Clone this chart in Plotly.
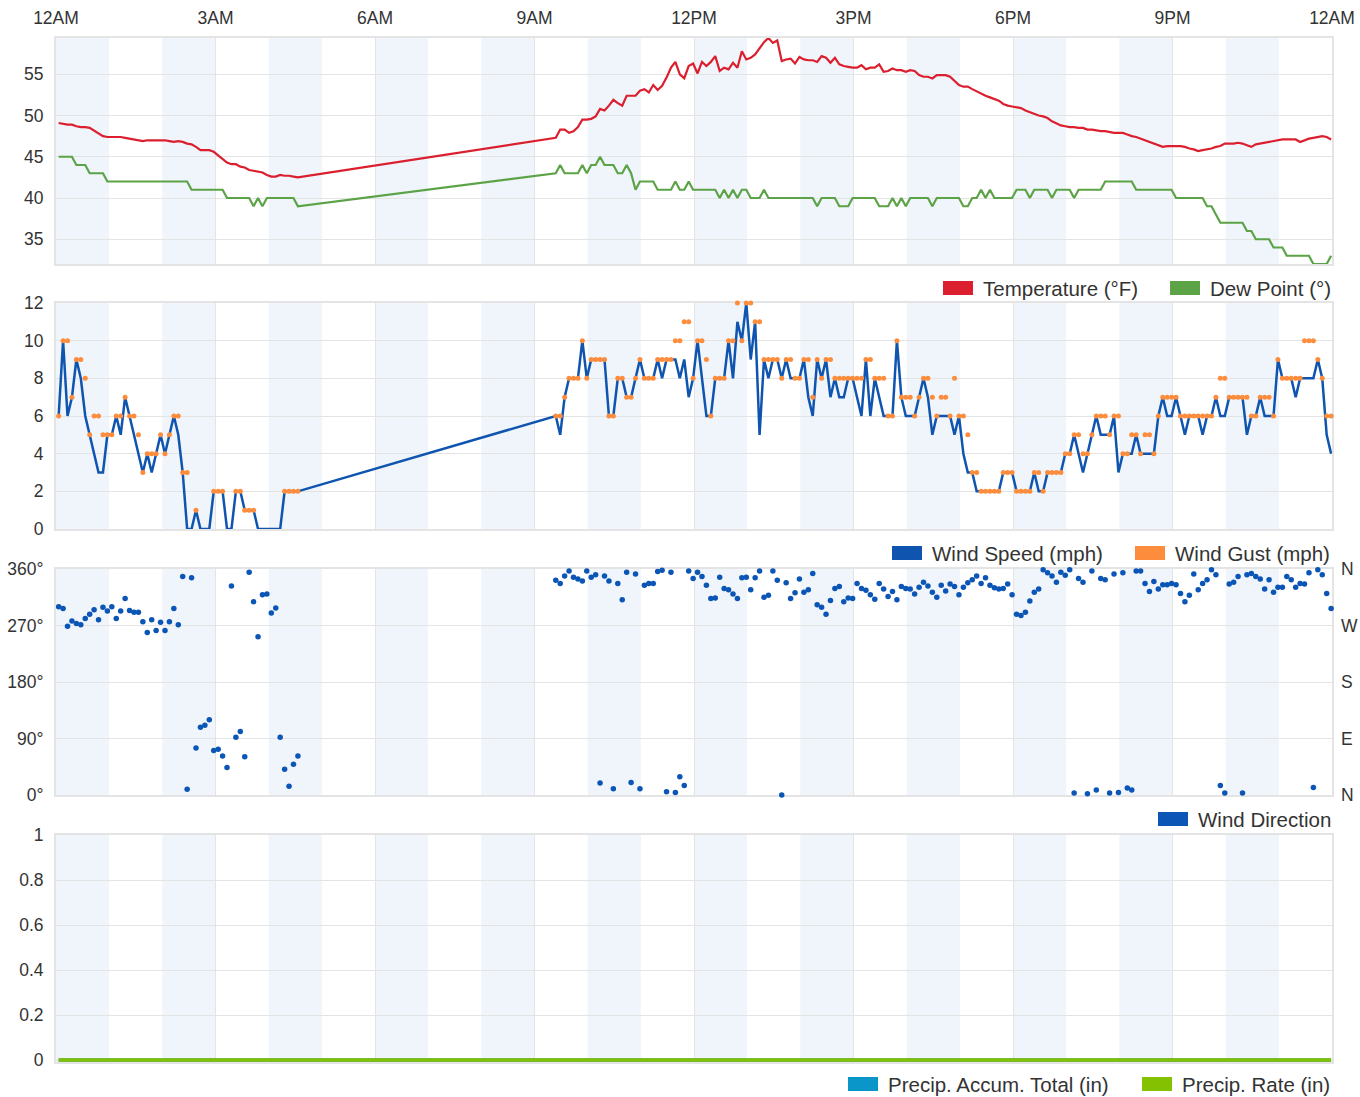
import pandas as pd
import plotly.graph_objects as go

# ---------------------------------------------------------------------------
# Station observations, 5-minute reports. The station was silent between
# 4:35 AM and 9:20 AM, so the day comes in two blocks.
# ---------------------------------------------------------------------------
DAY_START = "2020-11-08 00:00"
DAY_END = "2020-11-09 00:00"
EARLY_START = "2020-11-08 00:03"
LATE_START = "2020-11-08 09:24"

tick_labels = ["12AM", "3AM", "6AM", "9AM", "12PM", "3PM", "6PM", "9PM", "12AM"]
dir_ticks = [0, 90, 180, 270, 360]
dir_tick_labels = ["0°", "90°", "180°", "270°", "360°"]
compass_labels = ["N", "E", "S", "W", "N"]

temp_early = [
    49.1, 49.0, 48.9, 48.9, 48.7, 48.6, 48.6, 48.5, 48.2, 47.9,
    47.5, 47.4, 47.4, 47.4, 47.4, 47.3, 47.2, 47.1, 47.0, 46.9,
    47.0, 47.0, 47.0, 47.0, 47.0, 46.9, 46.8, 46.9, 46.8, 46.6,
    46.5, 46.2, 45.8, 45.8, 45.8, 45.6, 45.2, 44.7, 44.3, 44.1,
    44.1, 43.8, 43.7, 43.4, 43.3, 43.2, 43.1, 42.8, 42.6, 42.6,
    42.8, 42.7, 42.7, 42.6, 42.5,
]
temp_late = [
    47.3, 48.3, 48.3, 47.9, 48.1, 48.6, 49.5, 49.5, 49.6, 49.9,
    50.8, 50.6, 51.2, 51.9, 51.5, 51.2, 52.4, 52.4, 52.4, 53.0,
    53.2, 52.8, 53.7, 53.1, 53.6, 54.6, 55.8, 56.5, 55.0, 54.5,
    56.0, 56.3, 55.1, 56.5, 56.0, 56.5, 57.2, 55.4, 55.8, 55.6,
    56.4, 55.8, 57.8, 56.8, 57.0, 57.4, 58.2, 58.9, 59.4, 58.8,
    59.1, 56.6, 56.8, 56.9, 56.3, 57.1, 56.8, 56.7, 56.7, 56.5,
    57.2, 57.0, 56.4, 57.0, 56.2, 56.0, 55.9, 55.8, 55.8, 56.1,
    55.6, 55.8, 55.8, 56.2, 55.3, 55.4, 55.7, 55.5, 55.5, 55.3,
    55.5, 55.4, 54.9, 54.7, 54.7, 54.5, 54.9, 54.9, 54.9, 54.7,
    54.2, 53.7, 53.5, 53.5, 53.2, 52.9, 52.7, 52.4, 52.2, 52.0,
    51.8, 51.4, 51.2, 51.1, 51.0, 50.9, 50.6, 50.4, 50.2, 50.0,
    49.9, 49.7, 49.3, 49.0, 48.8, 48.7, 48.6, 48.6, 48.5, 48.5,
    48.3, 48.3, 48.2, 48.1, 48.1, 48.0, 47.9, 47.9, 47.9, 47.7,
    47.5, 47.4, 47.2, 47.0, 46.8, 46.6, 46.4, 46.2, 46.3, 46.3,
    46.3, 46.3, 46.2, 46.0, 45.9, 45.7, 45.8, 45.9, 46.0, 46.2,
    46.3, 46.6, 46.6, 46.6, 46.7, 46.6, 46.4, 46.2, 46.5, 46.6,
    46.7, 46.8, 46.9, 47.0, 47.1, 47.1, 47.1, 47.1, 46.8, 47.0,
    47.2, 47.3, 47.4, 47.5, 47.4, 47.1,
]

dew_early = [
    45, 45, 45, 45, 44, 44, 44, 43, 43, 43,
    43, 42, 42, 42, 42, 42, 42, 42, 42, 42,
    42, 42, 42, 42, 42, 42, 42, 42, 42, 42,
    41, 41, 41, 41, 41, 41, 41, 41, 40, 40,
    40, 40, 40, 40, 39, 40, 39, 40, 40, 40,
    40, 40, 40, 40, 39,
]
dew_late = [
    43, 44, 43, 43, 43, 43, 44, 43, 44, 44,
    45, 44, 44, 44, 43, 43, 44, 43, 41, 42,
    42, 42, 42, 41, 41, 41, 41, 42, 41, 41,
    42, 41, 41, 41, 41, 41, 41, 40, 41, 40,
    41, 40, 41, 41, 40, 40, 40, 41, 40, 40,
    40, 40, 40, 40, 40, 40, 40, 40, 40, 39,
    40, 40, 40, 40, 39, 39, 39, 40, 40, 40,
    40, 40, 40, 39, 39, 39, 40, 39, 40, 39,
    40, 40, 40, 40, 40, 39, 40, 40, 40, 40,
    40, 40, 39, 39, 40, 40, 41, 40, 41, 40,
    40, 40, 40, 40, 41, 41, 41, 40, 41, 41,
    41, 41, 40, 41, 41, 41, 41, 40, 41, 41,
    41, 41, 41, 41, 42, 42, 42, 42, 42, 42,
    42, 41, 41, 41, 41, 41, 41, 41, 41, 41,
    40, 40, 40, 40, 40, 40, 40, 39, 39, 38,
    37, 37, 37, 37, 37, 37, 36, 36, 35, 35,
    35, 35, 34, 34, 34, 33, 33, 33, 33, 33,
    33, 32, 32, 32, 32, 33,
]

wind_early = [
    6, 10, 6, 7, 9, 8, 6, 5, 4, 3,
    3, 5, 5, 6, 5, 7, 6, 5, 4, 3,
    4, 3, 4, 5, 4, 5, 6, 5, 3, 0,
    0, 1, 0, 0, 0, 2, 2, 2, 0, 0,
    2, 2, 1, 1, 1, 0, 0, 0, 0, 0,
    0, 2, 2, 2, 2,
]
wind_late = [
    6, 5, 7, 8, 8, 8, 10, 8, 9, 9,
    9, 9, 6, 6, 8, 8, 7, 7, 8, 9,
    8, 8, 8, 9, 8, 9, 9, 9, 8, 9,
    7, 8, 10, 8, 6, 6, 8, 8, 8, 10,
    8, 11, 10, 12, 9, 11, 5, 9, 8, 9,
    9, 8, 9, 8, 8, 8, 9, 7, 6, 9,
    8, 9, 7, 8, 7, 7, 8, 8, 7, 6,
    9, 6, 8, 7, 6, 6, 6, 10, 7, 6,
    6, 6, 7, 8, 7, 5, 6, 6, 6, 6,
    5, 6, 4, 3, 3, 2, 2, 2, 2, 2,
    2, 3, 3, 3, 2, 2, 2, 2, 3, 2,
    2, 3, 3, 3, 3, 4, 4, 5, 4, 3,
    4, 5, 6, 5, 5, 5, 6, 3, 4, 4,
    4, 5, 4, 4, 4, 4, 6, 7, 6, 6,
    7, 6, 5, 6, 6, 6, 5, 6, 6, 7,
    6, 6, 7, 7, 7, 7, 5, 6, 6, 7,
    6, 6, 6, 9, 8, 8, 8, 7, 8, 8,
    8, 8, 9, 8, 5, 4,
]

# gusts are not reported while the air is calm
gust_early = [
    6, 10, 10, 7, 9, 9, 8, 5, 6, 6,
    5, 5, 5, 6, 6, 7, 6, 6, 5, 3,
    4, 4, 4, 5, 4, 5, 6, 6, 3, 3,
    None, 1, None, None, None, 2, 2, 2, None, None,
    2, 2, 1, 1, 1, None, None, None, None, None,
    None, 2, 2, 2, 2,
]
gust_late = [
    6, 6, 7, 8, 8, 8, 10, 8, 9, 9,
    9, 9, 6, 6, 8, 8, 7, 7, 8, 9,
    8, 8, 8, 9, 9, 9, 9, 10, 10, 11,
    11, 8, 10, 10, 9, 6, 8, 8, 8, 10,
    10, 12, 10, 12, 12, 11, 11, 9, 9, 9,
    9, 8, 9, 9, 8, 8, 9, 9, 7, 9,
    8, 9, 9, 8, 8, 8, 8, 8, 8, 8,
    9, 9, 8, 8, 8, 6, 6, 10, 7, 7,
    7, 6, 7, 8, 8, 7, 6, 7, 7, 6,
    8, 6, 6, 5, 3, 3, 2, 2, 2, 2,
    2, 3, 3, 3, 2, 2, 2, 2, 3, 3,
    2, 3, 3, 3, 3, 4, 4, 5, 5, 4,
    4, 5, 6, 6, 6, 5, 6, 6, 4, 4,
    5, 5, 4, 5, 5, 4, 6, 7, 7, 7,
    7, 6, 6, 6, 6, 6, 6, 6, 6, 7,
    8, 8, 7, 7, 7, 7, 7, 6, 6, 7,
    7, 7, 6, 9, 8, 8, 8, 8, 8, 10,
    10, 10, 9, 8, 6, 6,
]

dir_early = [
    300, 297, 269, 277, 273, 271, 281, 288, 295, 279,
    299, 293, 300, 281, 293, 313, 294, 291, 291, 276,
    259, 279, 262, 275, 262, 276, 297, 271, 348, 9,
    346, 75, 108, 111, 120, 71, 73, 62, 44, 333,
    92, 101, 61, 355, 308, 252, 319, 320, 290, 298,
    92, 41, 14, 49, 62,
]
dir_late = [
    342, 337, 349, 357, 347, 344, 341, 357, 347, 351,
    19, 349, 341, 10, 337, 311, 355, 20, 352, 10,
    334, 337, 337, 356, 358, 5, 355, 4, 29, 15,
    357, 345, 355, 348, 334, 313, 314, 347, 329, 327,
    320, 313, 346, 347, 327, 346, 357, 315, 318, 357,
    342, 0, 338, 313, 322, 344, 323, 327, 353, 303,
    299, 288, 310, 329, 332, 308, 314, 313, 337, 329,
    326, 319, 312, 337, 328, 316, 324, 311, 332, 329,
    328, 320, 331, 339, 333, 323, 315, 334, 325, 336,
    332, 319, 331, 338, 343, 349, 337, 346, 334, 330,
    328, 329, 336, 319, 288, 286, 291, 309, 323, 328,
    359, 354, 349, 339, 355, 350, 359, 3, 345, 339,
    2, 357, 8, 345, 343, 3, 352, 4, 354, 11,
    8, 357, 357, 337, 324, 340, 328, 335, 335, 337,
    335, 321, 308, 318, 352, 327, 337, 343, 359, 351,
    15, 3, 336, 339, 348, 3, 351, 353, 348, 344,
    328, 343, 323, 331, 331, 348, 343, 331, 337, 336,
    354, 12, 359, 351, 321, 297,
]

times = (list(pd.date_range(EARLY_START, periods=len(temp_early), freq="5min"))
         + list(pd.date_range(LATE_START, periods=len(temp_late), freq="5min")))
temperature = temp_early + temp_late
dew_point = dew_early + dew_late
wind_speed = wind_early + wind_late
wind_gust = gust_early + gust_late
wind_dir = dir_early + dir_late
# no rain recorded all day
precip_accum = [0.0] * len(times)
precip_rate = [0.0] * len(times)

# ---------------------------------------------------------------------------
# Styling
# ---------------------------------------------------------------------------
FONT = "Liberation Sans, Arial, Helvetica, sans-serif"
TEXT = "#333333"
GRID = "#e4e4e4"
FRAME = "#e4e4e4"
BAND = "#eff5fb"

C_TEMP = "#dc1f2e"
C_DEW = "#5ba346"
C_WIND = "#0f55b0"
C_GUST = "#fd8d3c"
C_DIR = "#0a55b5"
C_ACCUM = "#0a96c8"
C_RATE = "#84c100"

W, H = 1360, 1097
M_L, M_R, M_T, M_B = 56, 28, 38, 35
PLOT_W = W - M_L - M_R
PLOT_H = H - M_T - M_B


def fx(px):
    return (px - M_L) / PLOT_W


def fy(py):
    return (H - M_B - py) / PLOT_H


# panel pixel extents (top, bottom); the precipitation panel reaches a couple
# of pixels below its zero line so the zero-level line is not cut in half
panels = [(38, 264), (303, 529), (569, 795), (835, 1062)]
domains = [[fy(b), fy(t)] for t, b in panels]
domains[0][1] = 1.0
domains[3][0] = 0.0
precip_floor = -(1062 - 1060) / (1060 - 835)

tick_times = list(pd.date_range(DAY_START, DAY_END, freq="3h"))
tick_font = dict(family=FONT, size=17.5, color=TEXT)

fig = go.Figure()

fig.add_trace(go.Scatter(x=times, y=temperature, name="Temperature (°F)", mode="lines",
                         line=dict(color=C_TEMP, width=2.2), xaxis="x", yaxis="y"))
fig.add_trace(go.Scatter(x=times, y=dew_point, name="Dew Point (°)", mode="lines",
                         line=dict(color=C_DEW, width=2.2), xaxis="x", yaxis="y"))
fig.add_trace(go.Scatter(x=times, y=wind_speed, name="Wind Speed (mph)", mode="lines",
                         line=dict(color=C_WIND, width=2.5), xaxis="x2", yaxis="y2",
                         cliponaxis=False))
fig.add_trace(go.Scatter(x=times, y=wind_gust, name="Wind Gust (mph)", mode="markers",
                         marker=dict(color=C_GUST, size=5), xaxis="x2", yaxis="y2",
                         cliponaxis=False))
fig.add_trace(go.Scatter(x=times, y=wind_dir, name="Wind Direction", mode="markers",
                         marker=dict(color=C_DIR, size=5.5), xaxis="x3", yaxis="y3",
                         cliponaxis=False))
# compass labels on the right-hand scale of the direction panel
fig.add_trace(go.Scatter(x=[times[0]], y=[None], mode="markers", showlegend=False,
                         hoverinfo="skip", xaxis="x3", yaxis="y5"))
fig.add_trace(go.Scatter(x=times, y=precip_accum, name="Precip. Accum. Total (in)", mode="lines",
                         line=dict(color=C_ACCUM, width=3.5), xaxis="x4", yaxis="y4",
                         cliponaxis=False))
fig.add_trace(go.Scatter(x=times, y=precip_rate, name="Precip. Rate (in)", mode="lines",
                         line=dict(color=C_RATE, width=3.5), xaxis="x4", yaxis="y4",
                         cliponaxis=False))


def x_axis(anchor, labels):
    ax = dict(type="date", range=[DAY_START, DAY_END], tickvals=tick_times,
              ticktext=tick_labels, showgrid=True, gridcolor=GRID, gridwidth=1,
              zeroline=False, showline=True, mirror=True, linecolor=FRAME, linewidth=2,
              ticks="", tickfont=tick_font, anchor=anchor, domain=[0, 1],
              showticklabels=labels, automargin=False, layer="below traces")
    if labels:
        ax.update(side="top", ticklabelstandoff=5)
    else:
        ax.update(matches="x")
    return ax


def y_axis(domain, rng, tickvals, anchor, ticktext=None):
    ax = dict(domain=domain, range=rng, tickvals=tickvals,
              showgrid=True, gridcolor=GRID, gridwidth=1, zeroline=False,
              showline=True, mirror=True, linecolor=FRAME, linewidth=2,
              ticks="", tickfont=tick_font, ticklabelstandoff=7, anchor=anchor,
              automargin=False, layer="below traces")
    if ticktext is not None:
        ax["ticktext"] = ticktext
    return ax


fig.update_layout(
    width=W, height=H,
    margin=dict(l=M_L, r=M_R, t=M_T, b=M_B),
    paper_bgcolor="white", plot_bgcolor="white",
    showlegend=False,
    font=dict(family=FONT, color=TEXT),
    xaxis=x_axis("y", True),
    xaxis2=x_axis("y2", False),
    xaxis3=x_axis("y3", False),
    xaxis4=x_axis("y4", False),
    yaxis=y_axis(domains[0], [32, 59.4], [35, 40, 45, 50, 55], "x"),
    yaxis2=y_axis(domains[1], [0, 12], [0, 2, 4, 6, 8, 10, 12], "x2"),
    yaxis3=y_axis(domains[2], [0, 360], dir_ticks, "x3", dir_tick_labels),
    yaxis4=y_axis(domains[3], [precip_floor, 1], [0, 0.2, 0.4, 0.6, 0.8, 1], "x4"),
    yaxis5=dict(overlaying="y3", side="right", anchor="x3", range=[0, 360],
                tickvals=dir_ticks, ticktext=compass_labels,
                showgrid=False, zeroline=False, showline=False, ticks="",
                tickfont=tick_font, ticklabelstandoff=8, automargin=False),
)

# alternating hour bands behind every panel
shapes = []
day0 = pd.Timestamp(DAY_START)
for i, axis_id in enumerate(["", "2", "3", "4"]):
    for h in range(0, 24, 2):
        shapes.append(dict(type="rect", layer="below", line=dict(width=0), fillcolor=BAND,
                           xref="x" + axis_id, yref="y" + axis_id + " domain",
                           x0=day0 + pd.Timedelta(hours=h), x1=day0 + pd.Timedelta(hours=h + 1),
                           y0=0, y1=1))

# legend rows under each panel: (swatch left px, label, colour), row centre px
legend_rows = [
    (288, [(943, "Temperature (°F)", C_TEMP), (1170, "Dew Point (°)", C_DEW)]),
    (553, [(892, "Wind Speed (mph)", C_WIND), (1135, "Wind Gust (mph)", C_GUST)]),
    (819, [(1158, "Wind Direction", C_DIR)]),
    (1084, [(848, "Precip. Accum. Total (in)", C_ACCUM), (1142, "Precip. Rate (in)", C_RATE)]),
]
annotations = []
for cy, items in legend_rows:
    for x0, label, color in items:
        shapes.append(dict(type="rect", xref="paper", yref="paper", layer="above",
                           x0=fx(x0), x1=fx(x0 + 30), y0=fy(cy + 7), y1=fy(cy - 7),
                           fillcolor=color, line=dict(width=0)))
        annotations.append(dict(xref="paper", yref="paper", x=fx(x0 + 38), y=fy(cy),
                                xanchor="left", yanchor="middle", showarrow=False,
                                text=label, font=dict(family=FONT, size=20.5, color=TEXT)))

fig.update_layout(shapes=shapes, annotations=annotations)

fig.write_html("out.html")
